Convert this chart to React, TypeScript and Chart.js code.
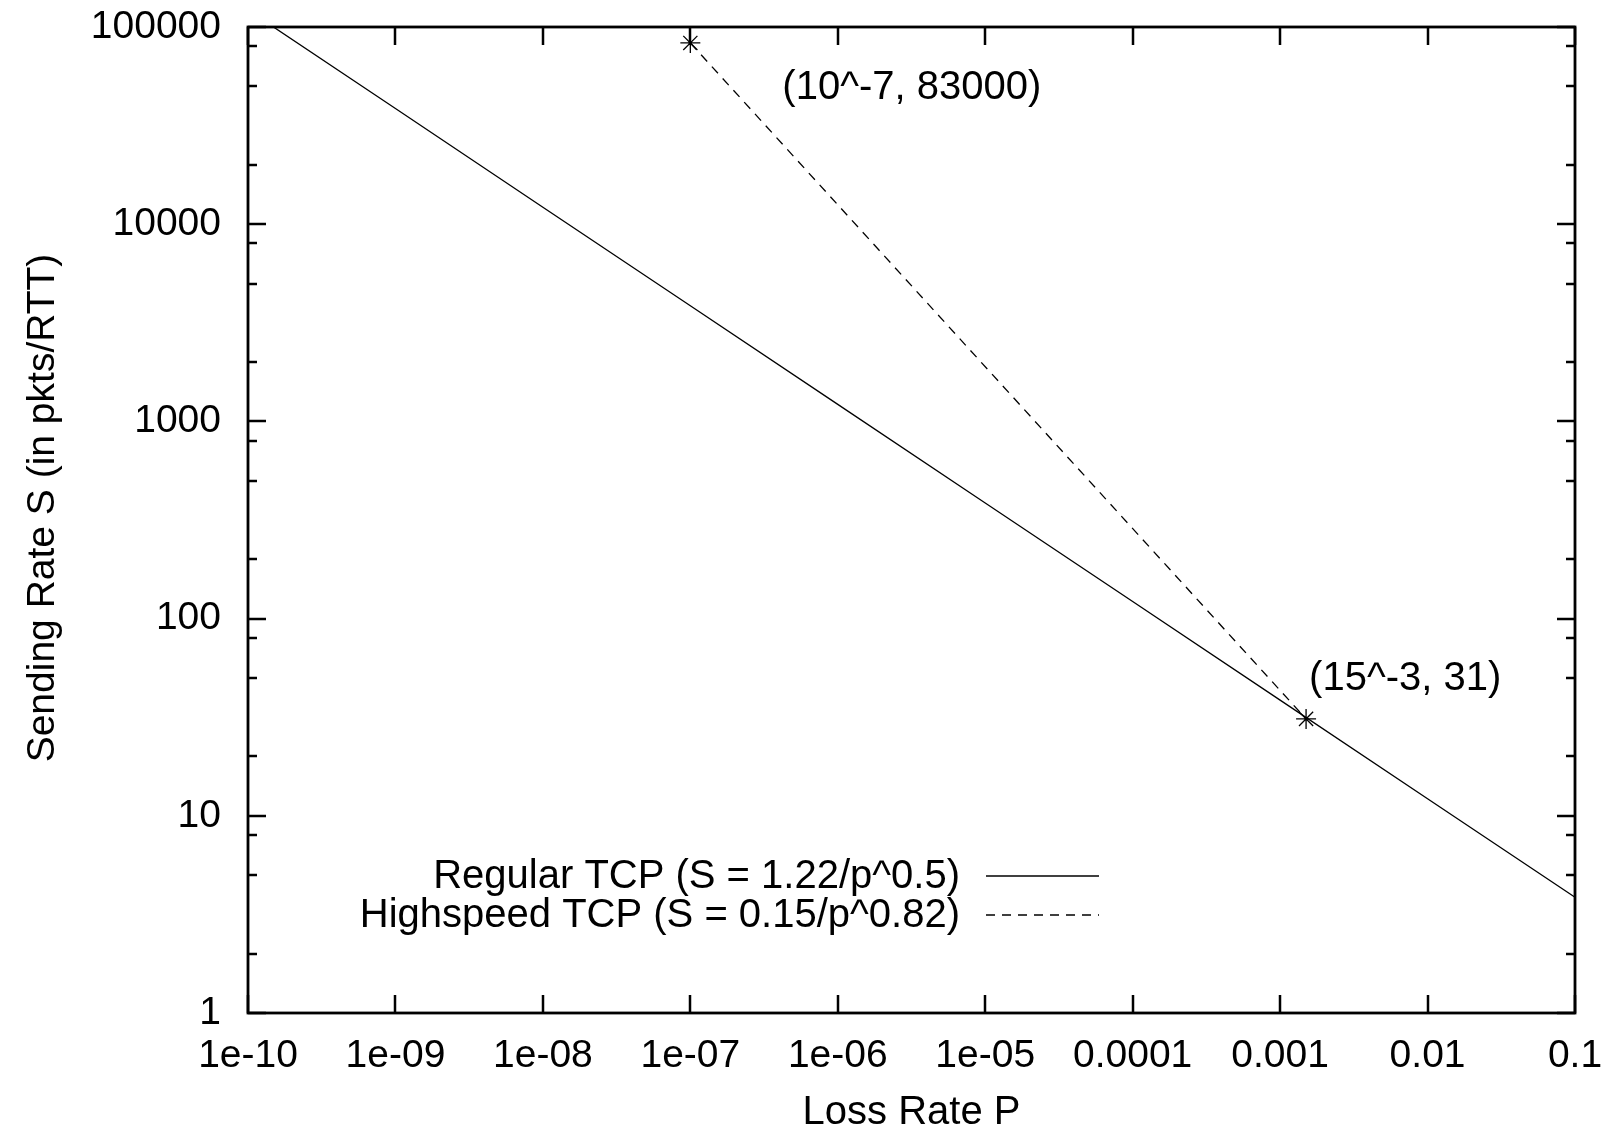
import React, { useEffect, useRef } from "react";
import { Chart, registerables } from "chart.js";

Chart.register(...registerables);

// ---- data ----
const lossRates = [1e-10, 1e-9, 1e-8, 1e-7, 1e-6, 1e-5, 1e-4, 1e-3, 1e-2, 1e-1];
const regularRates = [122000, 38600, 12200, 3860, 1220, 386, 122, 38.6, 12.2, 3.86];
const highspeedLoss = [1e-7, 0.0015];
const highspeedRates = [83000, 31];

const seriesLabels = ["Regular TCP (S = 1.22/p^0.5)", "Highspeed TCP (S = 0.15/p^0.82)"];
const annotationTexts = ["(10^-7, 83000)", "(15^-3, 31)"];

const xTickValues = [1e-10, 1e-9, 1e-8, 1e-7, 1e-6, 1e-5, 1e-4, 1e-3, 1e-2, 1e-1];
const xTickLabels = ["1e-10", "1e-09", "1e-08", "1e-07", "1e-06", "1e-05", "0.0001", "0.001", "0.01", "0.1"];
const yTickValues = [1, 10, 100, 1000, 10000, 100000];
const yTickLabels = ["1", "10", "100", "1000", "10000", "100000"];
const yMinorFactors = [2, 5, 8];

const xTitle = "Loss Rate P";
const yTitle = "Sending Rate S (in pkts/RTT)";

// ---- layout / style ----
const FONT = '"Liberation Sans", Arial, Helvetica, sans-serif';
const annotationOffsets = [
  { dx: 92, dy: 45 },
  { dx: 3, dy: -40 },
];

const framePlugin = {
  id: "gnuplotFrame",
  afterDatasetsDraw(chart: any) {
    const { ctx, chartArea } = chart;
    const { left, right, top, bottom } = chartArea;
    const xs = chart.scales.x;
    const ys = chart.scales.y;
    ctx.save();
    ctx.strokeStyle = "#000";
    ctx.lineCap = "butt";
    ctx.lineWidth = 2.5;
    const major = 18;
    const minor = 9;
    ctx.beginPath();
    for (const v of xTickValues) {
      const px = Math.round(xs.getPixelForValue(v));
      ctx.moveTo(px, bottom);
      ctx.lineTo(px, bottom - major);
      ctx.moveTo(px, top);
      ctx.lineTo(px, top + major);
    }
    for (const v of yTickValues) {
      const py = Math.round(ys.getPixelForValue(v));
      ctx.moveTo(left, py);
      ctx.lineTo(left + major, py);
      ctx.moveTo(right, py);
      ctx.lineTo(right - major, py);
      if (v < 100000) {
        for (const f of yMinorFactors) {
          const pm = Math.round(ys.getPixelForValue(v * f));
          ctx.moveTo(left, pm);
          ctx.lineTo(left + minor, pm);
          ctx.moveTo(right, pm);
          ctx.lineTo(right - minor, pm);
        }
      }
    }
    ctx.stroke();
    ctx.lineWidth = 2.8;
    ctx.strokeRect(left, top, right - left, bottom - top);
    ctx.restore();
  },
  afterDraw(chart: any) {
    const { ctx, chartArea } = chart;
    const { left, top, bottom } = chartArea;
    ctx.save();
    ctx.fillStyle = "#000";
    ctx.strokeStyle = "#000";

    // y axis title (rotated)
    ctx.save();
    ctx.font = `39px ${FONT}`;
    ctx.translate(43, (top + bottom) / 2 - 12);
    ctx.rotate(-Math.PI / 2);
    ctx.textAlign = "center";
    ctx.textBaseline = "middle";
    ctx.fillText(yTitle, 0, 0);
    ctx.restore();

    // legend
    ctx.font = `40px ${FONT}`;
    ctx.textAlign = "right";
    ctx.textBaseline = "middle";
    const legendTextRight = left + 712;
    const sampleStart = left + 738;
    const sampleEnd = left + 851;
    const rowY = [top + 849, top + 888];
    chart.data.datasets.forEach((ds: any, i: number) => {
      ctx.fillText(seriesLabels[i], legendTextRight, rowY[i] + 1);
      ctx.save();
      ctx.lineWidth = ds.borderWidth;
      ctx.setLineDash(ds.borderDash || []);
      ctx.beginPath();
      ctx.moveTo(sampleStart, rowY[i]);
      ctx.lineTo(sampleEnd, rowY[i]);
      ctx.stroke();
      ctx.restore();
    });

    // point annotations
    const meta = chart.getDatasetMeta(1);
    ctx.textAlign = "left";
    ctx.textBaseline = "middle";
    annotationTexts.forEach((t, i) => {
      const el = meta.data[i];
      if (!el) return;
      ctx.fillText(t, el.x + annotationOffsets[i].dx, el.y + annotationOffsets[i].dy);
    });
    ctx.restore();
  },
};

export default function App() {
  const canvasRef = useRef<HTMLCanvasElement | null>(null);

  useEffect(() => {
    if (!canvasRef.current) return;
    Chart.defaults.color = "#000";
    Chart.defaults.font.family = FONT;
    const chart = new Chart(canvasRef.current, {
      type: "line",
      data: {
        datasets: [
          {
            label: seriesLabels[0],
            data: lossRates.map((p, i) => ({ x: p, y: regularRates[i] })),
            borderColor: "#000",
            backgroundColor: "#000",
            borderWidth: 1.3,
            pointRadius: 0,
            fill: false,
            tension: 0,
          },
          {
            label: seriesLabels[1],
            data: highspeedLoss.map((p, i) => ({ x: p, y: highspeedRates[i] })),
            borderColor: "#000",
            backgroundColor: "#000",
            borderWidth: 1.3,
            borderDash: [9, 7],
            pointStyle: "star",
            pointRadius: 10,
            pointBorderWidth: 1.3,
            pointBorderColor: "#000",
            fill: false,
            tension: 0,
          },
        ],
      },
      options: {
        responsive: false,
        animation: false,
        devicePixelRatio: 1,
        layout: { padding: { left: 0, top: 27, right: 31, bottom: 0 } },
        plugins: {
          legend: { display: false },
          tooltip: { enabled: false },
        },
        scales: {
          x: {
            type: "logarithmic",
            position: "bottom",
            min: 1e-10,
            max: 0.1,
            grid: { display: false, drawTicks: false, tickLength: 0 },
            border: { display: false },
            afterBuildTicks: (scale: any) => {
              scale.ticks = xTickValues.map((v) => ({ value: v }));
            },
            afterFit: (scale: any) => {
              scale.height = 120;
              scale.paddingLeft = 0;
              scale.paddingRight = 0;
              scale.paddingTop = 0;
              scale.paddingBottom = 0;
            },
            ticks: {
              autoSkip: false,
              maxRotation: 0,
              minRotation: 0,
              padding: 20,
              color: "#000",
              font: { size: 39, family: FONT },
              callback: (_v: any, i: number) => xTickLabels[i],
            },
            title: {
              display: true,
              text: xTitle,
              color: "#000",
              font: { size: 40, family: FONT, lineHeight: 1 },
              padding: { top: 0, bottom: 0 },
            },
          },
          y: {
            type: "logarithmic",
            position: "left",
            min: 1,
            max: 100000,
            grid: { display: false, drawTicks: false, tickLength: 0 },
            border: { display: false },
            afterBuildTicks: (scale: any) => {
              scale.ticks = yTickValues.map((v) => ({ value: v }));
            },
            afterFit: (scale: any) => {
              scale.width = 248;
              scale.paddingLeft = 0;
              scale.paddingRight = 0;
              scale.paddingTop = 0;
              scale.paddingBottom = 0;
            },
            ticks: {
              autoSkip: false,
              padding: 27,
              color: "#000",
              font: { size: 39, family: FONT },
              callback: (_v: any, i: number) => yTickLabels[i],
            },
          },
        },
      },
      plugins: [framePlugin],
    } as any);
    return () => chart.destroy();
  }, []);

  return (
    <div style={{ position: "fixed", left: 0, top: 0, width: 1606, height: 1133, background: "#fff" }}>
      <canvas ref={canvasRef} width={1606} height={1133} style={{ display: "block" }} />
    </div>
  );
}
